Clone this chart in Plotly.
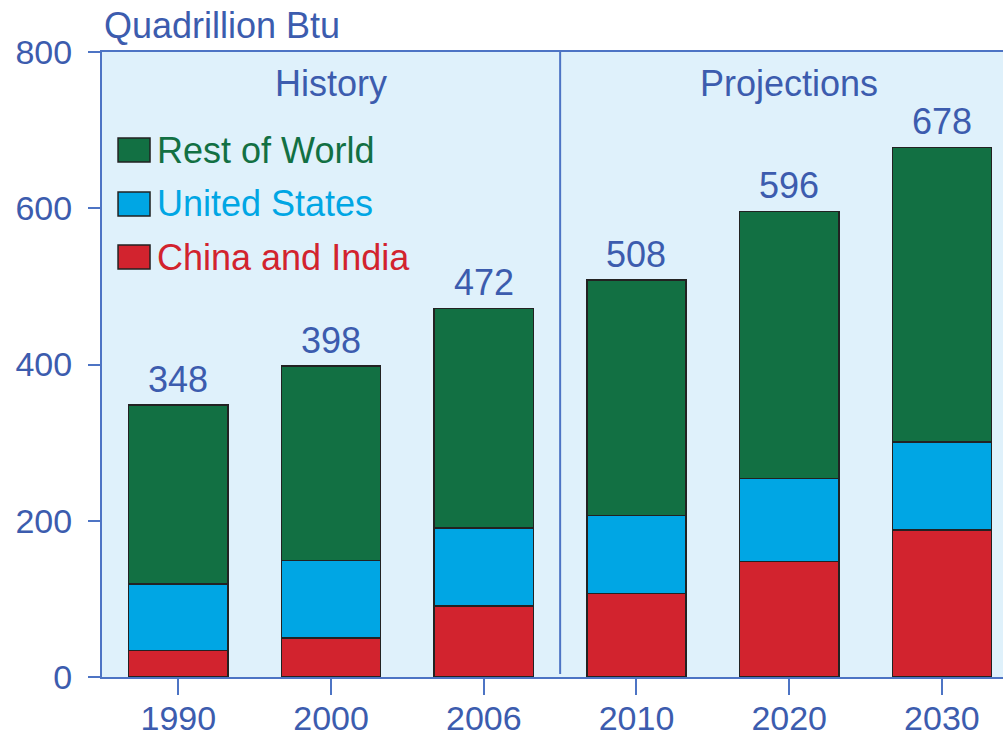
import plotly.graph_objects as go

years = ["1990", "2000", "2006", "2010", "2020", "2030"]
china_india = [34, 50, 91, 107, 148, 188]
united_states = [85, 99, 100, 100, 106, 113]
rest_of_world = [229, 249, 281, 301, 342, 377]
totals = [348, 398, 472, 508, 596, 678]
series_names = ["China and India", "United States", "Rest of World"]
y_ticks = [0, 200, 400, 600, 800]

colors = {"China and India": "#d2232e", "United States": "#00a6e4", "Rest of World": "#127043"}
text_blue = "#3c5cae"
axis_blue = "#4d74c4"
bg = "#dff1fb"
FONT = "Liberation Sans, Arial, sans-serif"
FS = 36

fig = go.Figure()
for name, vals in zip(series_names, [china_india, united_states, rest_of_world]):
    fig.add_trace(go.Bar(
        x=years, y=vals, name=name, width=0.65,
        marker=dict(color=colors[name], line=dict(color="#222222", width=1.5)),
        showlegend=False, hoverinfo="skip"))

# total labels
for i, t in enumerate(totals):
    fig.add_annotation(x=i, y=t, xref="x", yref="y", text=str(t), showarrow=False,
                       yanchor="bottom", yshift=3, font=dict(family=FONT, size=FS, color=text_blue))

# History / Projections labels
fig.add_annotation(x=1, y=0.949, xref="x", yref="paper", text="History", showarrow=False,
                   yanchor="middle", font=dict(family=FONT, size=FS, color=text_blue))
fig.add_annotation(x=4, y=0.949, xref="x", yref="paper", text="Projections", showarrow=False,
                   yanchor="middle", font=dict(family=FONT, size=FS, color=text_blue))

# divider between history and projections
fig.add_shape(type="line", xref="x", yref="paper", x0=2.5, x1=2.5, y0=0.005, y1=1,
              line=dict(color=axis_blue, width=2))

# unit label
fig.add_annotation(x=0, y=1.043, xref="paper", yref="paper", text="Quadrillion Btu", showarrow=False,
                   xanchor="left", yanchor="middle", xshift=0,
                   font=dict(family=FONT, size=FS, color=text_blue))

# manual legend
leg_items = ["Rest of World", "United States", "China and India"]
leg_y = [0.8432, 0.7568, 0.672]
for name, yy in zip(leg_items, leg_y):
    fig.add_shape(type="rect", xref="paper", yref="paper", x0=0.0178, x1=0.0533,
                  y0=yy - 0.0192, y1=yy + 0.0192,
                  fillcolor=colors[name], line=dict(color="#222222", width=1.5))
    fig.add_annotation(x=0.059, y=yy, xref="paper", yref="paper", text=name, showarrow=False,
                       xanchor="left", yanchor="middle",
                       font=dict(family=FONT, size=FS, color=colors[name]))

fig.update_layout(
    barmode="stack",
    width=1003, height=738,
    margin=dict(l=102, r=0, t=52, b=61, autoexpand=False),
    paper_bgcolor="white", plot_bgcolor=bg,
    font=dict(family=FONT, size=35, color=text_blue),
    xaxis=dict(type="category", range=[-0.5, 5.4], showgrid=False, showline=True,
               linecolor=axis_blue, linewidth=2, mirror=True, ticks="outside", ticklen=16,
               tickcolor=axis_blue, tickwidth=2, automargin=False, ticklabelstandoff=-6,
               tickfont=dict(family=FONT, size=34, color=text_blue), fixedrange=True),
    yaxis=dict(range=[0, 800], tickvals=y_ticks, showgrid=False, showline=True, zeroline=False,
               linecolor=axis_blue, linewidth=2, ticks="outside", ticklen=12,
               tickcolor=axis_blue, tickwidth=2, ticklabelstandoff=9, automargin=False,
               tickfont=dict(family=FONT, size=34, color=text_blue), fixedrange=True),
    bargap=0.35,
)

fig.write_html("out.html", config={"displayModeBar": False},
               post_script="document.body.style.margin='0';document.body.style.overflow='hidden';")
